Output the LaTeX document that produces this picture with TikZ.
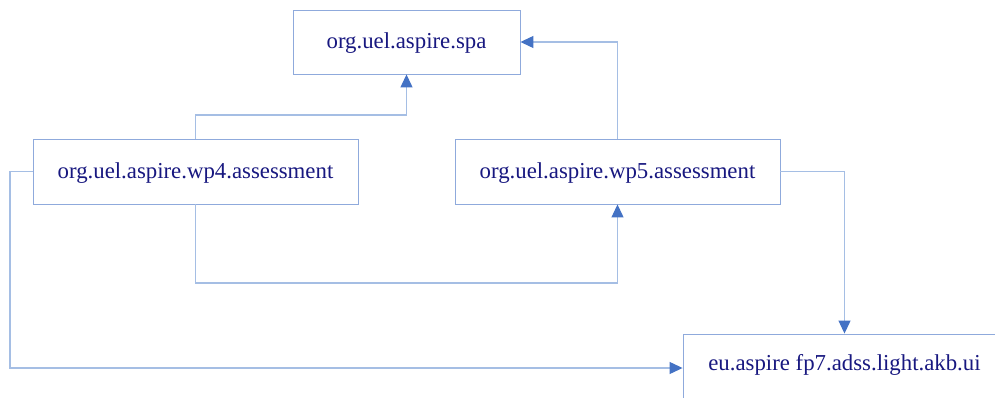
\documentclass[tikz,border=0pt]{standalone}
\usepackage{fontspec}
\setmainfont{Liberation Serif}
\usetikzlibrary{arrows.meta}
\definecolor{boxline}{RGB}{143,170,220}
\definecolor{wire}{RGB}{165,190,228}
\definecolor{tipblue}{RGB}{68,114,196}
\definecolor{labelnavy}{RGB}{24,24,128}
\begin{document}
\begin{tikzpicture}[x=1pt,y=-1pt,
  pkg/.style={draw=boxline,line width=0.9pt,fill=white,inner sep=0pt,
    text=labelnavy,font=\fontsize{22.8}{27}\selectfont,
    text height=15.6pt,text depth=2pt},
  conn/.style={draw=wire,line width=1.2pt,
    -{Triangle[length=13pt,width=12pt,color=tipblue,fill=tipblue]}}]
\useasboundingbox (0,0) rectangle (995,398);
\clip (0,0) rectangle (995,398);
\node[pkg,minimum width=227pt,minimum height=64pt] (spa) at (406.5,42) {org.uel.aspire.spa};
\node[pkg,minimum width=325pt,minimum height=65pt] (wp4) at (195.5,171.5) {org.uel.aspire.wp4.assessment};
\node[pkg,minimum width=325pt,minimum height=65pt] (wp5) at (617.5,171.5) {org.uel.aspire.wp5.assessment};
\node[pkg,minimum width=323pt,minimum height=68pt,text depth=11.6pt] (akb) at (844.5,368) {eu.aspire fp7.adss.light.akb.ui};
\coordinate (upbend) at (0,115);
\coordinate (lowbend) at (0,283);
\coordinate (leftrail) at (10,0);
\draw[conn] (wp4.north) -- (wp4.north |- upbend) -| (spa.south);
\draw[conn] (wp5.north) |- (spa.east);
\draw[conn] (wp4.south) -- (wp4.south |- lowbend) -| (wp5.south);
\draw[conn] (wp5.east) -| (akb.north);
\draw[conn] (wp4.west) -- (leftrail |- wp4.west) |- (akb.west);
\end{tikzpicture}
\end{document}
